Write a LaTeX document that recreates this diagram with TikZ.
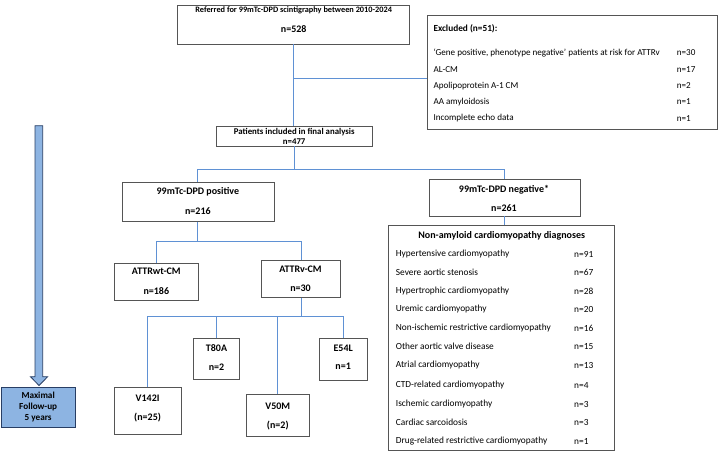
\documentclass[tikz,border=0pt]{standalone}
\usepackage{fontspec}
\setmainfont{Carlito}
\definecolor{lineblue}{RGB}{95,145,212}
\definecolor{boxgray}{RGB}{85,85,85}
\definecolor{arrfill}{RGB}{141,180,226}
\definecolor{arrdraw}{RGB}{40,62,100}
\begin{document}
\begin{tikzpicture}[x=1pt,y=-1pt,
  box/.style={draw=boxgray, line width=0.8pt, fill=white, inner sep=0pt},
  conn/.style={draw=lineblue, line width=0.9pt},
  txt/.style={inner sep=0pt, font=\fontsize{9.35}{11}\selectfont},
  etxt/.style={inner sep=0pt, anchor=west, font=\fontsize{9.1}{11}\selectfont},
  btxt/.style={inner sep=0pt, font=\fontsize{10}{12}\selectfont\bfseries},
  sbtxt/.style={inner sep=0pt, font=\fontsize{8.8}{10.5}\selectfont\bfseries},
  lt/.style={txt, anchor=west}
]
\useasboundingbox (0,0) rectangle (719,452);

% boxes
\node[box, minimum width=232.3pt, minimum height=38.7pt] (top) at (293.7,24.65) {};
\node[box, minimum width=290.4pt, minimum height=113.3pt] (excl) at (572.5,72.35) {};
\node[box, minimum width=155.7pt, minimum height=19.3pt] (pat) at (294.2,136.35) {};
\node[box, minimum width=152pt, minimum height=39pt] (pos) at (197.9,201.8) {};
\node[box, minimum width=150.6pt, minimum height=36.7pt] (neg) at (504.6,197.65) {};
\node[box, minimum width=225.7pt, minimum height=224.5pt] (non) at (501.15,337.75) {};
\node[box, minimum width=83.7pt, minimum height=36.7pt] (wt) at (156.5,281.65) {};
\node[box, minimum width=78.6pt, minimum height=36.6pt] (v) at (301,279) {};
\node[box, minimum width=67pt, minimum height=46.6pt] (m1) at (147.6,411) {};
\node[box, minimum width=46pt, minimum height=40.6pt] (m2) at (216.5,359) {};
\node[box, minimum width=62.6pt, minimum height=42.4pt] (m3) at (277.8,415.5) {};
\node[box, minimum width=47.4pt, minimum height=41.3pt] (m4) at (343.2,359.35) {};
\node[draw=arrdraw, line width=0.8pt, fill=arrfill, inner sep=0pt, minimum width=74.3pt, minimum height=40.7pt] (fu) at (38.15,407.35) {};

% follow-up arrow
\draw[draw=arrdraw, line width=0.8pt, fill=arrfill]
  (35,125.7) -- (42.7,125.7) -- (42.7,376.7) -- (47.7,376.7) -- (39,385.5)
  -- (30.5,376.7) -- (35,376.7) -- cycle;

% connectors
\coordinate (j1) at (293.7,78.3);
\draw[conn] (top.south) -- (top.south |- pat.north);
\draw[conn] (j1) -- (j1 -| excl.west);
\coordinate (s1) at (294.2,169.3);
\draw[conn] (pat.south) -- (s1);
\draw[conn] (pos.north) -- (pos.north |- s1) -- (neg.north |- s1) -- (neg.north);
\draw[conn] (neg.south) -- (neg.south |- non.north);
\coordinate (s2) at (197.9,241);
\draw[conn] (pos.south) -- (s2);
\draw[conn] (wt.north) -- (wt.north |- s2) -- (v.north |- s2) -- (v.north);
\coordinate (s3) at (301,316.7);
\draw[conn] (v.south) -- (s3);
\draw[conn] (m1.north) -- (m1.north |- s3) -- (m4.north |- s3) -- (m4.north);
\draw[conn] (m2.north) -- (m2.north |- s3);
\draw[conn] (m3.north) -- (m3.north |- s3);

% texts
\node[btxt, font=\fontsize{8.3}{10}\selectfont\bfseries] (t1) at (293.7,10.5) {Referred for 99mTc-DPD scintigraphy between 2010-2024};
\node[btxt] (t2) at (293.7,29.5) {n=528};

\node[btxt, font=\fontsize{9.3}{11}\selectfont\bfseries, anchor=west] (e0) at (433.3,29) {Excluded (n=51):};
\node[etxt] (e1) at (433.3,52.7) {‘Gene positive, phenotype negative’ patients at risk for ATTRv};
\node[etxt] (e1n) at (676.7,52.7) {n=30};
\node[etxt] (e2) at (433.3,69.2) {AL-CM};
\node[etxt] (e2n) at (676.7,69.2) {n=17};
\node[etxt] (e3) at (433.3,85.7) {Apolipoprotein A-1 CM};
\node[etxt] (e3n) at (676.7,85.7) {n=2};
\node[etxt] (e4) at (433.3,102) {AA amyloidosis};
\node[etxt] (e4n) at (676.7,102) {n=1};
\node[etxt] (e5) at (433.3,118.3) {Incomplete echo data};
\node[etxt] (e5n) at (676.7,118.3) {n=1};

\node[sbtxt] (p1) at (294.2,132.3) {Patients included in final analysis};
\node[sbtxt] (p2) at (294.2,141.2) {n=477};

\node[btxt] (q1) at (197.9,191.7) {99mTc-DPD positive};
\node[btxt] (q2) at (197.9,210.7) {n=216};
\node[btxt] (r1) at (504,189.3) {99mTc-DPD negative*};
\node[btxt] (r2) at (504,207.7) {n=261};

\node[btxt] (w1) at (156.3,271.7) {ATTRwt-CM};
\node[btxt] (w2) at (156.3,291) {n=186};
\node[btxt] (v1) at (300.5,269.3) {ATTRv-CM};
\node[btxt] (v2) at (300.5,288.3) {n=30};

\node[btxt] (a1) at (147.6,398.3) {V142I};
\node[btxt] (a2) at (147.6,417.3) {(n=25)};
\node[btxt] (b1) at (216.5,348.3) {T80A};
\node[btxt] (b2) at (216.5,367) {n=2};
\node[btxt] (c1) at (277.8,406.7) {V50M};
\node[btxt] (c2) at (277.8,426) {(n=2)};
\node[btxt] (d1) at (343.2,348.3) {E54L};
\node[btxt] (d2) at (343.2,366.3) {n=1};

\node[btxt, font=\fontsize{9.2}{11}\selectfont\bfseries] (f1) at (38.15,395.3) {Maximal};
\node[btxt, font=\fontsize{9.2}{11}\selectfont\bfseries] (f2) at (38.15,407.3) {Follow-up};
\node[btxt, font=\fontsize{9.2}{11}\selectfont\bfseries] (f3) at (38.15,418.7) {5 years};

\node[btxt] (n0) at (501.7,235.7) {Non-amyloid cardiomyopathy diagnoses};
\foreach \lab/\val/\yy [count=\i] in {
  Hypertensive cardiomyopathy/n=91/254,
  Severe aortic stenosis/n=67/272.7,
  Hypertrophic cardiomyopathy/n=28/291,
  Uremic cardiomyopathy/n=20/309.4,
  Non-ischemic restrictive cardiomyopathy/n=16/328,
  Other aortic valve disease/n=15/346.6,
  Atrial cardiomyopathy/n=13/365.4,
  CTD-related cardiomyopathy/n=4/385,
  Ischemic cardiomyopathy/n=3/404,
  Cardiac sarcoidosis/n=3/422.3,
  Drug-related restrictive cardiomyopathy/n=1/441}{
  \node[lt] (nl\i) at (395.7,\yy) {\lab};
  \node[lt] (nv\i) at (574,\yy) {\val};
}
\end{tikzpicture}
\end{document}
